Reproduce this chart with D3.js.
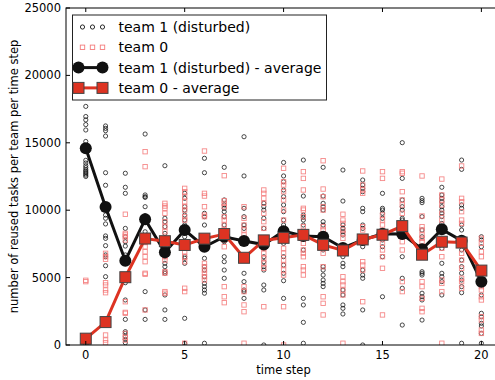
<!DOCTYPE html>
<html>
<head>
<meta charset="utf-8">
<script src="https://cdn.jsdelivr.net/npm/d3@7"></script>
<style>
  body { margin: 0; background: #fff; }
  svg { font-family: "DejaVu Sans", sans-serif; }
</style>
</head>
<body>
<svg id="chart" width="495" height="380"></svg>
<script>
// time steps 0..20
const steps = d3.range(0, 21);

// individual runs, team 1 (disturbed)
const team1Runs = [
  [17700, 16950, 16700, 16350, 15950, 15100, 13700, 13500, 13300, 13150, 13000, 12900, 12800, 12700, 12600, 12500],
  [16250, 16070, 15900, 15500, 12780, 11850, 9640, 9400, 8980, 8090, 7910, 7370, 6680, 6550, 5880, 5070],
  [12740, 11700, 11250, 8650, 8030, 7660, 7340, 6680, 6300, 4620, 3340, 1900, 990, 860, 620, 420, 170],
  [15650, 11130, 11000, 10950, 10260, 9600, 9400, 8400, 8030, 3960, 2600, 1900],
  [13300, 9400, 9150, 8780, 8280, 7790, 7000, 6550, 6060, 5810, 5440, 5320, 3710, 2600, 1900],
  [11250, 10880, 10260, 10010, 9640, 9270, 8900, 8500, 8030, 7660, 7420, 6550, 6430, 6060, 1980, 130],
  [13850, 12780, 9770, 9520, 8900, 7910, 7300, 6430, 5810, 5560, 5070, 4570, 4330, 4080, 3840, 130],
  [13180, 10760, 10390, 10140, 9890, 9520, 8900, 8030, 7660, 6550, 6180, 5560, 4950],
  [15450, 12540, 10140, 9520, 8900, 8650, 7720, 5320, 4700, 4080, 3960, 3460],
  [10510, 10260, 10010, 9400, 8650, 7420, 7290, 6550, 6180, 5810, 5560, 4450, 4080, 0],
  [13540, 12540, 12110, 11500, 11000, 10390, 9890, 9270, 8900, 8400, 7540, 6550, 5930, 5320, 4770, 3460],
  [13720, 11050, 9640, 9470, 9270, 8900, 8100, 7050, 3460, 2970, 1680, 130],
  [13180, 11050, 10510, 10260, 10010, 9150, 8900, 7050, 5810, 5560, 5190, 4820, 4570, 4330],
  [12980, 10680, 8900, 8650, 8400, 8160, 7200, 6550, 6060, 5810, 4080, 3710, 2970, 2720, 2300],
  [12240, 11870, 11620, 11370, 10140, 9890, 8900, 8650, 7290, 5560, 5190, 4950, 2600, 0],
  [11250, 10140, 10010, 9770, 9400, 8300, 7790, 7290, 6550, 3580],
  [15010, 12360, 10760, 10260, 10010, 9400, 9270, 8900, 6550, 4950, 4210, 1480],
  [10880, 10710, 10560, 9520, 8530, 8030, 7100, 5440, 5320, 5190, 3840, 3580, 3340, 1850],
  [11700, 11130, 10880, 10630, 10260, 10010, 9770, 9520, 9020, 8600, 7170, 6060, 5320, 5070, 4700, 3710],
  [13720, 13030, 10390, 10140, 8900, 8530, 7700, 7050, 6300, 5810, 5320, 4820, 4330, 3880, 130],
  [8030, 7790, 7290, 4900, 4700, 3710, 2350, 2100, 1610, 1410, 860, 130]
];

// individual runs, team 0
const team0Runs = [
  [4800, 4700, 0, 0, 0, 0],
  [6800, 6550, 6360, 4620, 4450, 4080, 3880, 740, 370, 170],
  [9700, 8280, 8160, 8030, 7790, 5200, 4900, 3210, 2420, 2350, 860, 570, 370],
  [14340, 13230, 7900, 7600, 7290, 6920, 6550, 6180, 5320, 5250, 2600],
  [10510, 10310, 10140, 9770, 9150, 8780, 8400, 7290, 6550, 6300, 5440, 5320, 3960, 3840],
  [11620, 11370, 11000, 10630, 10260, 10010, 9520, 9270, 6920, 6550, 6180, 4210, 3960, 130],
  [14390, 11250, 11050, 10260, 9640, 9520, 6060, 5810, 5560, 5320, 5070, 4820],
  [12560, 10710, 10510, 10260, 9520, 9270, 8900, 8530, 7790, 7290, 4330, 3580, 3140],
  [10260, 9400, 8900, 8530, 8160, 6500, 4330, 3960, 2970, 2470, 130],
  [11500, 11250, 10880, 10510, 9770, 9150, 8650, 7170, 6800, 6430, 6060, 5690, 2840],
  [13110, 12110, 11870, 11370, 10760, 10010, 9270, 7170, 6800, 6300, 5930, 5560, 5190, 2840, 0],
  [12860, 12360, 11500, 10140, 10010, 9520, 8780, 7540, 7050, 6800, 6550, 5810, 5560, 5190],
  [13670, 11570, 11000, 10260, 10010, 8780, 8530, 8160, 7660, 6800, 5810, 3580, 3090, 2230],
  [9700, 9270, 9020, 8530, 8280, 7910, 5070, 4700, 4450, 4080, 3710, 130],
  [12910, 11870, 11500, 11250, 8780, 8530, 6180, 5930, 5560, 3210],
  [12860, 12360, 9640, 9270, 8900, 7540, 7050, 6550, 5690, 2230],
  [12860, 12740, 11370, 10760, 10390, 9770, 8780, 7660, 7050, 4700, 3960],
  [12540, 9570, 8780, 8530, 8160, 7910, 7660, 4700, 4330, 3460, 2720, 2470],
  [12310, 11130, 10760, 10390, 9770, 9270, 7170, 6550, 4820, 4570, 3960, 130],
  [13280, 10880, 10630, 9890, 9270, 9020, 7540, 6800, 6300, 5690, 4950, 4700, 4210],
  [7910, 7540, 6920, 6550, 4330, 4080, 3580, 3340, 2100, 1850, 1110, 860]
];

// averages
const team1Avg = [14600, 10240, 6250, 9320, 6880, 8530, 7290, 8030, 7720, 7450, 8440, 8090, 8030, 7200, 7790, 8250, 8230, 7100, 8580, 7740, 4700];
const team0Avg = [470, 1700, 5030, 7900, 7700, 7420, 7890, 8230, 6470, 7760, 7950, 8170, 7430, 7010, 7830, 8180, 8820, 6700, 7660, 7600, 5520];

const xTicks = [0, 5, 10, 15, 20];
const yTicks = [0, 5000, 10000, 15000, 20000, 25000];

const legendLabels = ['team 1 (disturbed)', 'team 0', 'team 1 (disturbed) - average', 'team 0 - average'];

const black = '#111111';
const red = '#dd3322';
const pink = '#f47c7c';

const margin = { top: 8, left: 66, bottom: 35 };
const height = 380;
const pxPerStep = 19.78;

const x = d3.scaleLinear().domain([-1, 21]).range([margin.left, margin.left + 22 * pxPerStep]);
const y = d3.scaleLinear().domain([0, 25000]).range([height - margin.bottom, margin.top]);

const svg = d3.select('#chart');

svg.append('defs').append('clipPath')
  .attr('id', 'plot-clip')
  .append('rect')
  .attr('x', x(-1))
  .attr('y', y(25000))
  .attr('width', x(21) - x(-1))
  .attr('height', y(0) - y(25000));

const plot = svg.append('g').attr('clip-path', 'url(#plot-clip)');

// flatten runs into points
const pts1 = [];
team1Runs.forEach((runs, i) => runs.forEach(v => pts1.push({ t: steps[i], v })));
const pts0 = [];
team0Runs.forEach((runs, i) => runs.forEach(v => pts0.push({ t: steps[i], v })));

// scatter team 1
plot.selectAll('.p1')
  .data(pts1)
  .enter().append('circle')
  .attr('class', 'p1')
  .attr('cx', d => x(d.t))
  .attr('cy', d => y(d.v))
  .attr('r', 2.1)
  .attr('fill', 'none')
  .attr('stroke', black)
  .attr('stroke-opacity', 0.85)
  .attr('stroke-width', 0.9);

// scatter team 0
plot.selectAll('.p0')
  .data(pts0)
  .enter().append('rect')
  .attr('class', 'p0')
  .attr('x', d => x(d.t) - 2.2)
  .attr('y', d => y(d.v) - 2.2)
  .attr('width', 4.4)
  .attr('height', 4.4)
  .attr('fill', 'none')
  .attr('stroke', pink)
  .attr('stroke-opacity', 0.9)
  .attr('stroke-width', 0.9);

const line = d3.line()
  .x((d, i) => x(steps[i]))
  .y(d => y(d));

// team 1 average
plot.append('path')
  .datum(team1Avg)
  .attr('d', line)
  .attr('fill', 'none')
  .attr('stroke', black)
  .attr('stroke-width', 3);

plot.selectAll('.m1')
  .data(team1Avg)
  .enter().append('circle')
  .attr('class', 'm1')
  .attr('cx', (d, i) => x(steps[i]))
  .attr('cy', d => y(d))
  .attr('r', 6)
  .attr('fill', black);

// team 0 average
plot.append('path')
  .datum(team0Avg)
  .attr('d', line)
  .attr('fill', 'none')
  .attr('stroke', red)
  .attr('stroke-width', 3);

plot.selectAll('.m0')
  .data(team0Avg)
  .enter().append('rect')
  .attr('class', 'm0')
  .attr('x', (d, i) => x(steps[i]) - 5.5)
  .attr('y', d => y(d) - 5.5)
  .attr('width', 11)
  .attr('height', 11)
  .attr('fill', red)
  .attr('stroke', '#444')
  .attr('stroke-width', 1);

// axes frame
svg.append('rect')
  .attr('x', x(-1))
  .attr('y', y(25000))
  .attr('width', x(21) - x(-1))
  .attr('height', y(0) - y(25000))
  .attr('fill', 'none')
  .attr('stroke', '#000')
  .attr('stroke-width', 1);

// ticks, inward on all sides
const tickLen = 4;
svg.append('g').selectAll('line.xb')
  .data(xTicks).enter().append('line')
  .attr('x1', d => x(d)).attr('x2', d => x(d))
  .attr('y1', y(0)).attr('y2', y(0) - tickLen)
  .attr('stroke', '#000');
svg.append('g').selectAll('line.xt')
  .data(xTicks).enter().append('line')
  .attr('x1', d => x(d)).attr('x2', d => x(d))
  .attr('y1', y(25000)).attr('y2', y(25000) + tickLen)
  .attr('stroke', '#000');
svg.append('g').selectAll('line.yl')
  .data(yTicks).enter().append('line')
  .attr('x1', x(-1)).attr('x2', x(-1) + tickLen)
  .attr('y1', d => y(d)).attr('y2', d => y(d))
  .attr('stroke', '#000');

svg.append('g').selectAll('text.xl')
  .data(xTicks).enter().append('text')
  .attr('x', d => x(d))
  .attr('y', y(0) + 14)
  .attr('text-anchor', 'middle')
  .style('font-size', '11.5px')
  .text(d => d);

svg.append('g').selectAll('text.yl')
  .data(yTicks).enter().append('text')
  .attr('x', x(-1) - 5)
  .attr('y', d => y(d) + 4)
  .attr('text-anchor', 'end')
  .style('font-size', '11.5px')
  .text(d => d);

svg.append('text')
  .attr('x', (x(-1) + 495) / 2 + 3)
  .attr('y', 374)
  .attr('text-anchor', 'middle')
  .style('font-size', '11.5px')
  .text('time step');

svg.append('text')
  .attr('transform', `translate(18,${(y(0) + y(25000)) / 2}) rotate(-90)`)
  .attr('text-anchor', 'middle')
  .style('font-size', '11.5px')
  .text('number of reused tasks per team per time step');

// legend
const legend = svg.append('g').attr('transform', 'translate(72.5,15)');
legend.append('rect')
  .attr('width', 254)
  .attr('height', 85)
  .attr('fill', '#fff')
  .attr('stroke', '#222')
  .attr('stroke-width', 1);

const rowY = i => 12 + i * 20.3;

[10, 20, 30].forEach(dx => {
  legend.append('circle')
    .attr('cx', dx).attr('cy', rowY(0)).attr('r', 2.1)
    .attr('fill', 'none').attr('stroke', black).attr('stroke-width', 0.9);
  legend.append('rect')
    .attr('x', dx - 2.2).attr('y', rowY(1) - 2.2).attr('width', 4.4).attr('height', 4.4)
    .attr('fill', 'none').attr('stroke', pink).attr('stroke-width', 0.9);
});

legend.append('line')
  .attr('x1', 6).attr('x2', 30).attr('y1', rowY(2)).attr('y2', rowY(2))
  .attr('stroke', black).attr('stroke-width', 3);
[6, 30].forEach(dx => legend.append('circle')
  .attr('cx', dx).attr('cy', rowY(2)).attr('r', 6).attr('fill', black));

legend.append('line')
  .attr('x1', 6).attr('x2', 30).attr('y1', rowY(3)).attr('y2', rowY(3))
  .attr('stroke', red).attr('stroke-width', 3);
[6, 30].forEach(dx => legend.append('rect')
  .attr('x', dx - 5.5).attr('y', rowY(3) - 5.5).attr('width', 11).attr('height', 11)
  .attr('fill', red).attr('stroke', '#444').attr('stroke-width', 1));

legend.selectAll('text.lg')
  .data(legendLabels).enter().append('text')
  .attr('x', 46)
  .attr('y', (d, i) => rowY(i) + 5)
  .style('font-size', '14px')
  .text(d => d);
</script>
</body>
</html>
